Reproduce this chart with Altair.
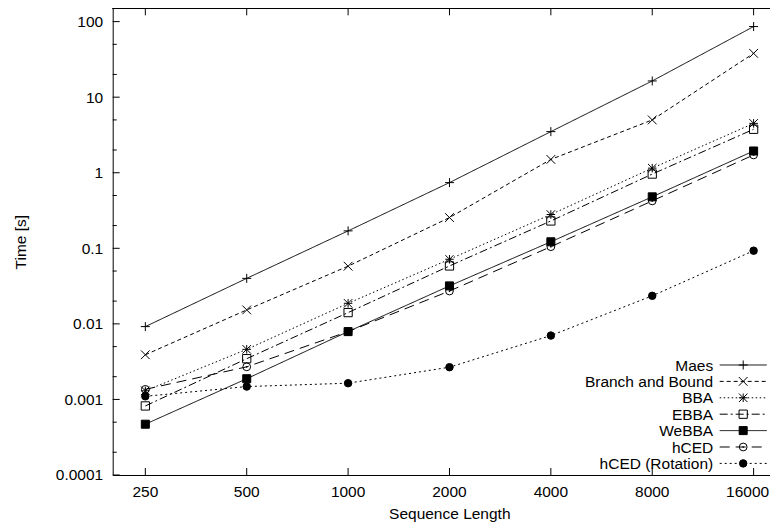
import altair as alt
import pandas as pd

# ---- data ----
lengths = [250, 500, 1000, 2000, 4000, 8000, 16000]
series_names = ["Maes", "Branch and Bound", "BBA", "EBBA", "WeBBA", "hCED", "hCED (Rotation)"]
maes = [0.0092, 0.040, 0.17, 0.74, 3.5, 16.4, 86.0]
branch_bound = [0.0039, 0.0153, 0.058, 0.255, 1.5, 5.0, 38.0]
bba = [0.0013, 0.0046, 0.0187, 0.0716, 0.28, 1.15, 4.5]
ebba = [0.00082, 0.00346, 0.0141, 0.0584, 0.23, 0.96, 3.76]
webba = [0.00047, 0.00188, 0.0079, 0.0318, 0.122, 0.48, 1.94]
hced = [0.00136, 0.0027, 0.0079, 0.0272, 0.105, 0.424, 1.72]
hced_rot = [0.0011, 0.00148, 0.00164, 0.00267, 0.0070, 0.0235, 0.093]

y_major = [0.0001, 0.001, 0.01, 0.1, 1, 10, 100]
y_minor = [0.0002, 0.0005, 0.002, 0.005, 0.02, 0.05, 0.2, 0.5, 2, 5, 20, 50]

values = [maes, branch_bound, bba, ebba, webba, hced, hced_rot]
rows = []
for name, vals in zip(series_names, values):
    for n, t in zip(lengths, vals):
        rows.append({"series": name, "n": n, "t": t})
df = pd.DataFrame(rows)

W = 657
H = 466.7
FONT = "Liberation Sans"
FS = 15.5

xscale = alt.Scale(type="log", domain=[200, 17858], nice=False, zero=False)
yscale = alt.Scale(type="log", domain=[0.0001, 150], nice=False, zero=False)

dash_range = [[1, 0], [4, 3], [1.5, 2.5], [8, 3, 2, 3], [1, 0], [10, 6], [2, 3]]
custom_plus = "M-1,0L1,0M0,-1L0,1"
custom_x = "M-1,-1L1,1M-1,1L1,-1"
custom_star = "M-1,0L1,0M0,-1L0,1M-1,-1L1,1M-1,1L1,-1"
shape_range = [custom_plus, custom_x, custom_star, "square", "square", "circle", "circle"]
fill_range = ["transparent", "transparent", "transparent", "transparent", "black", "transparent", "black"]
size_range = [81, 56, 56, 49, 64, 49, 42]

dash_enc = alt.StrokeDash("series:N", scale=alt.Scale(domain=series_names, range=dash_range), legend=None)
shape_enc = alt.Shape("series:N", scale=alt.Scale(domain=series_names, range=shape_range), legend=None)
fill_enc = alt.Fill("series:N", scale=alt.Scale(domain=series_names, range=fill_range), legend=None)
size_enc = alt.Size("series:N", scale=alt.Scale(domain=series_names, range=size_range), legend=None)

x_axis = alt.Axis(
    values=lengths, labels=False, ticks=False, tickSize=0, grid=False, domain=True, domainColor="black",
    title="Sequence Length", titleFont=FONT, titleFontSize=FS,
    titleFontWeight="normal", titleColor="black", titleBaseline="alphabetic", titleY=43.5,
    titleX=336.6, titleAlign="center",
)
y_axis = alt.Axis(
    values=y_major, format="~g", ticks=False, tickSize=0, grid=False, domain=True,
    domainColor="black", labelFont=FONT, labelFontSize=FS, labelColor="black",
    labelPadding=10, title="Time [s]", titleFont=FONT, titleFontSize=FS,
    titleFontWeight="normal", titleColor="black", titleBaseline="alphabetic",
    titleX=-87, titleY=H / 2, titleAngle=270, titleAlign="center",
    labelFlush=False, labelOverlap=False,
)


def X(field):
    return alt.X(field, scale=xscale, axis=x_axis)


def Y(field):
    return alt.Y(field, scale=yscale, axis=y_axis)


base = alt.Chart(df)

lines = base.mark_line(strokeWidth=1, color="black").encode(
    x=X("n:Q"), y=Y("t:Q"), strokeDash=dash_enc, detail="series:N",
)

points = base.mark_point(filled=True, strokeWidth=1, stroke="black", opacity=1).encode(
    x=X("n:Q"), y=Y("t:Q"), shape=shape_enc, fill=fill_enc, size=size_enc,
)

dots = base.transform_filter(alt.datum.series == "hCED").mark_point(
    filled=True, shape="circle", size=3, color="black", opacity=1
).encode(x=X("n:Q"), y=Y("t:Q"))

# inward ticks (gnuplot style)
xt = pd.DataFrame({"n": lengths})
ymj = pd.DataFrame({"t": y_major})
ymn = pd.DataFrame({"t": y_minor})

xticks_bottom = alt.Chart(xt).mark_rule(color="black", strokeWidth=1).encode(
    x=X("n:Q"), y=alt.value(H), y2=alt.value(H - 7)
)
xticks_top = alt.Chart(xt).mark_rule(color="black", strokeWidth=1).encode(
    x=X("n:Q"), y=alt.value(0), y2=alt.value(7)
)
yticks_major = alt.Chart(ymj).mark_rule(color="black", strokeWidth=1).encode(
    y=Y("t:Q"), x=alt.value(0), x2=alt.value(7)
)
yticks_minor = alt.Chart(ymn).mark_rule(color="black", strokeWidth=1).encode(
    y=Y("t:Q"), x=alt.value(0), x2=alt.value(4)
)
top_border = alt.Chart(xt).mark_rule(color="black", strokeWidth=1).encode(
    x=alt.value(0), x2=alt.value(W), y=alt.value(0)
)

# x tick labels (last one nudged so it stays inside the page)
xlab_main = alt.Chart(pd.DataFrame({"n": lengths[:-1]})).mark_text(
    align="center", baseline="alphabetic", font=FONT, fontSize=FS, color="black"
).encode(x=X("n:Q"), y=alt.value(H + 21.7), text=alt.Text("n:Q", format="d"))
xlab_last = alt.Chart(pd.DataFrame({"n": lengths[-1:]})).mark_text(
    align="center", baseline="alphabetic", font=FONT, fontSize=FS, color="black", dx=-6
).encode(x=X("n:Q"), y=alt.value(H + 21.7), text=alt.Text("n:Q", format="d"))

# legend (inside, bottom right)
leg = pd.DataFrame({"series": series_names, "i": list(range(len(series_names)))})
leg_base = alt.Chart(leg).transform_calculate(ly="356.7 + 16.4 * datum.i", ty="362.3 + 16.4 * datum.i")

leg_text = leg_base.mark_text(align="right", baseline="alphabetic", font=FONT, fontSize=FS, color="black").encode(
    text="series:N", x=alt.value(600.5), y=alt.Y("ty:Q", scale=None, axis=None)
)
leg_lines = leg_base.mark_rule(color="black", strokeWidth=1).encode(
    x=alt.value(607), x2=alt.value(654), y=alt.Y("ly:Q", scale=None, axis=None), strokeDash=dash_enc
)
leg_points = leg_base.mark_point(filled=True, strokeWidth=1, stroke="black", opacity=1).encode(
    x=alt.value(630.5), y=alt.Y("ly:Q", scale=None, axis=None), shape=shape_enc, fill=fill_enc, size=size_enc
)
leg_dot = leg_base.transform_filter(alt.datum.series == "hCED").mark_point(
    filled=True, shape="circle", size=3, color="black", opacity=1
).encode(x=alt.value(630.5), y=alt.Y("ly:Q", scale=None, axis=None))

chart = alt.layer(
    lines, points, dots, xticks_bottom, xticks_top, yticks_major, yticks_minor, top_border,
    xlab_main, xlab_last, leg_lines, leg_points, leg_dot, leg_text,
).properties(
    width=W, height=H,
    padding={"left": 104.7, "top": 0.3, "right": 0, "bottom": 52},
    autosize=alt.AutoSizeParams(type="none"),
    background="white",
).configure_view(stroke=None)

chart.save("out.html", embed_options={"renderer": "svg", "actions": False})
